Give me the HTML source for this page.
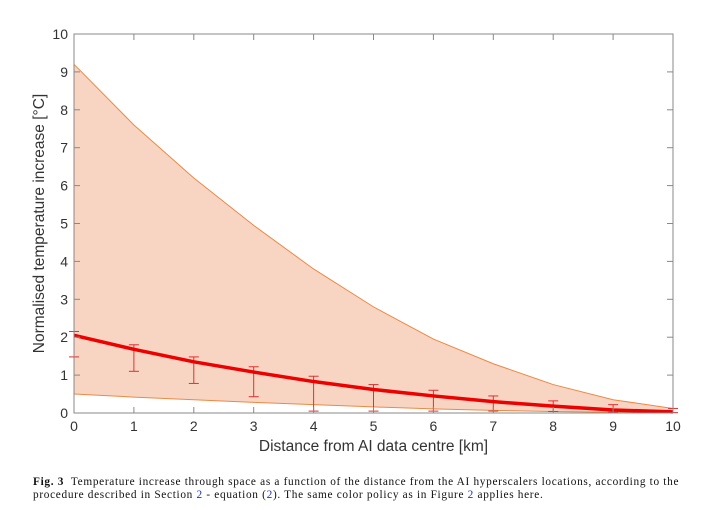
<!DOCTYPE html>
<html><head><meta charset="utf-8"><style>
body{margin:0;background:#fff;width:715px;height:510px;overflow:hidden}
svg text{font-family:"Liberation Sans",sans-serif}
.cap{position:absolute;left:33px;top:476px;white-space:nowrap;font-family:"Liberation Serif",serif;font-size:11.3px;letter-spacing:0.68px;line-height:13px;color:#111}
.cap a{color:#2233bb;text-decoration:none}
</style></head><body>
<svg id="chart" width="715" height="470" style="position:absolute;left:0;top:0"></svg>
<div class="cap"><b>Fig. 3</b>&nbsp; Temperature increase through space as a function of the distance from the AI hyperscalers locations, according to the<br>procedure described in Section <a>2</a> - equation (<a>2</a>). The same color policy as in Figure <a>2</a> applies here.</div>
<script>
const xs=[0,1,2,3,4,5,6,7,8,9,10];
const meanV=[2.05,1.68,1.35,1.08,0.83,0.62,0.45,0.3,0.18,0.08,0.03];
const upperV=[9.2,7.6,6.2,4.95,3.8,2.8,1.95,1.3,0.75,0.35,0.12];
const lowerV=[0.5,0.42,0.35,0.28,0.22,0.16,0.11,0.07,0.04,0.02,0.01];
const errLo=[1.48,1.1,0.78,0.43,0.05,0.05,0.05,0.05,0.04,0.02,0.01];
const errHi=[2.15,1.8,1.48,1.22,0.97,0.75,0.6,0.45,0.32,0.22,0.12];
const xTicks=[0,1,2,3,4,5,6,7,8,9,10];
const yTicks=[0,1,2,3,4,5,6,7,8,9,10];
const svg=document.getElementById('chart');
const NS='http://www.w3.org/2000/svg';
const L=74,R=673,T=34,B=413;
const X=v=>L+(v-0)/10*(R-L);
const Y=v=>B-v/10*(B-T);
function mk(tag,attrs,parent){const e=document.createElementNS(NS,tag);for(const k in attrs)e.setAttribute(k,attrs[k]);(parent||svg).appendChild(e);return e;}
let d='M'+xs.map((x,i)=>X(x)+','+Y(upperV[i])).join('L')+'L'+xs.slice().reverse().map((x,j)=>X(x)+','+Y(lowerV[xs.length-1-j])).join('L')+'Z';
let band=mk('path',{d:d,fill:'#f8d5c3',stroke:'none'});


let up=mk('path',{d:'M'+xs.map((x,i)=>X(x)+','+Y(upperV[i])).join('L'),fill:'none',stroke:'#ee8844','stroke-width':1});


let lo=mk('path',{d:'M'+xs.map((x,i)=>X(x)+','+Y(lowerV[i])).join('L'),fill:'none',stroke:'#ee8844','stroke-width':1});


xs.forEach((x,i)=>{
 const g=mk('g',{stroke:'#e03030','stroke-width':1});
 
 
 mk('line',{x1:X(x),x2:X(x),y1:Y(errLo[i]),y2:Y(errHi[i])},g);
 mk('line',{x1:X(x)-5,x2:X(x)+5,y1:Y(errLo[i]),y2:Y(errLo[i])},g);
 mk('line',{x1:X(x)-5,x2:X(x)+5,y1:Y(errHi[i]),y2:Y(errHi[i])},g);
});
let m=mk('path',{d:'M'+xs.map((x,i)=>X(x)+','+Y(meanV[i])).join('L'),fill:'none',stroke:'#ee0000','stroke-width':3.5,'stroke-linejoin':'round'});


let box=mk('rect',{x:L,y:T,width:R-L,height:B-T,fill:'none',stroke:'#888','stroke-width':1});


xTicks.forEach(t=>{
 mk('line',{x1:X(t),x2:X(t),y1:B,y2:B-6,stroke:'#888'});
 mk('line',{x1:X(t),x2:X(t),y1:T,y2:T+6,stroke:'#888'});
 const tx=mk('text',{x:X(t),y:B+18,'text-anchor':'middle','font-size':14,fill:'#333'});tx.textContent=t;
 
 
});
yTicks.forEach(t=>{
 mk('line',{x1:L,x2:L+6,y1:Y(t),y2:Y(t),stroke:'#888'});
 mk('line',{x1:R,x2:R-6,y1:Y(t),y2:Y(t),stroke:'#888'});
 const tx=mk('text',{x:L-6,y:Y(t)+5,'text-anchor':'end','font-size':14,fill:'#333'});tx.textContent=t;
 
 
});
let xt=mk('text',{x:(L+R)/2,y:B+38,'text-anchor':'middle','font-size':15.5,fill:'#333'});xt.textContent='Distance from AI data centre [km]';


let yt=mk('text',{x:0,y:0,'text-anchor':'middle','font-size':15.5,fill:'#333',transform:'translate(44,'+((T+B)/2)+') rotate(-90)'});yt.textContent='Normalised temperature increase [°C]';


</script>
</body></html>
